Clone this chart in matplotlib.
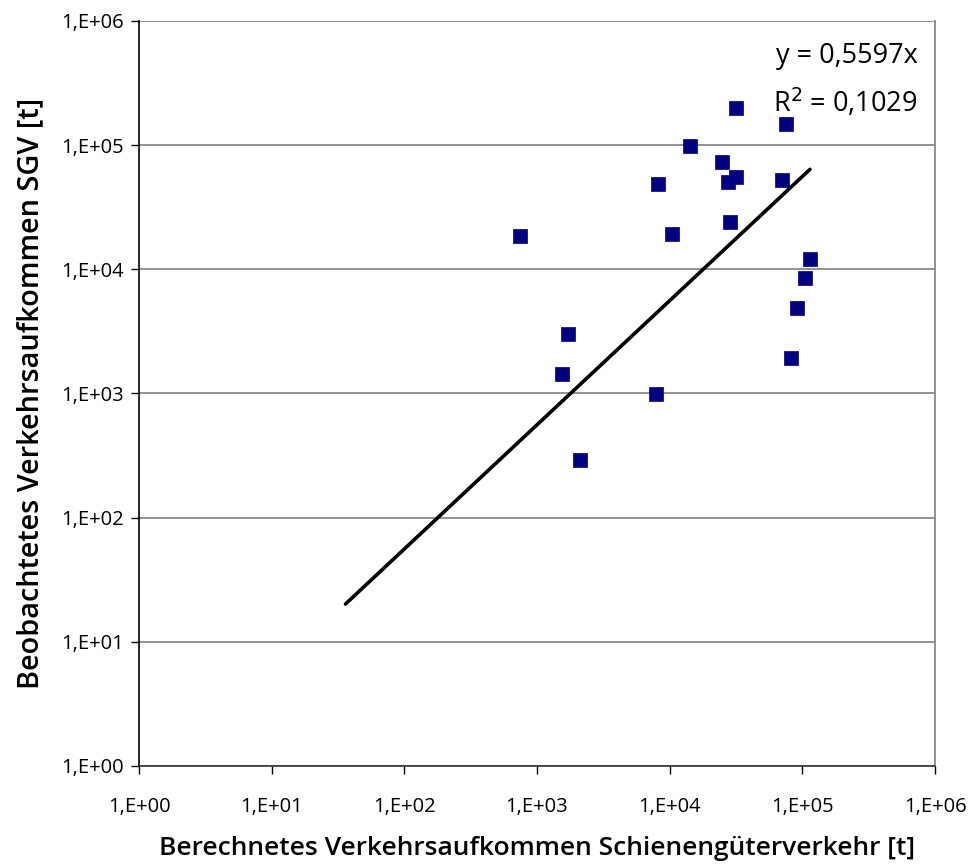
import numpy as np
import matplotlib
matplotlib.use("Agg")
import matplotlib.pyplot as plt
from matplotlib.ticker import FixedLocator, NullLocator

plt.rcParams['font.family'] = ['Open Sans', 'DejaVu Sans']

# Data
x_calc = [743, 1710, 1540, 2105, 7870, 8150, 10400, 14200, 24700, 27500,
          31600, 28400, 31600, 75200, 70100, 114000, 104000, 91000, 81900]
y_obs = [18500, 3010, 1432, 291, 988, 48500, 19200, 98200, 72900, 50300,
         55200, 24000, 198000, 147000, 52300, 12100, 8490, 4870, 1930]
slope = 0.5597
r2 = 0.1029
trend_x_range = [36, 114000]
tick_vals = [1e0, 1e1, 1e2, 1e3, 1e4, 1e5, 1e6]
tick_labels = ["1,E+00", "1,E+01", "1,E+02", "1,E+03", "1,E+04", "1,E+05", "1,E+06"]

fig = plt.figure(figsize=(9.72, 8.67), dpi=100)
ax = fig.add_axes([0.143, 0.1165, 0.819, 0.8593])
ax.set_xscale('log')
ax.set_yscale('log')
ax.set_xlim(1e0, 1e6)
ax.set_ylim(1e0, 1e6)

ax.yaxis.set_major_locator(FixedLocator(tick_vals))
ax.xaxis.set_major_locator(FixedLocator(tick_vals))
ax.xaxis.set_minor_locator(NullLocator())
ax.yaxis.set_minor_locator(NullLocator())
ax.set_xticklabels(tick_labels)
ax.set_yticklabels(tick_labels)

ax.grid(True, axis='y', color='#808080', linewidth=1.2)
ax.set_axisbelow(True)

ax.spines['top'].set_visible(False)
ax.spines['right'].set_color('#808080')
ax.spines['right'].set_linewidth(1.2)
ax.spines['left'].set_color('black')
ax.spines['bottom'].set_color('#333333')
ax.spines['left'].set_linewidth(1.2)
ax.spines['bottom'].set_linewidth(1.2)

ax.tick_params(axis='both', direction='out', length=6, width=1.0, labelsize=14.5,
               colors='black', pad=5)
ax.tick_params(axis='x', pad=16)

tx = np.logspace(np.log10(trend_x_range[0]), np.log10(trend_x_range[1]), 200)
ax.plot(tx, slope * tx, color='black', linewidth=2.6, zorder=3, solid_capstyle='round')

ax.scatter(x_calc, y_obs, marker='s', s=100, color='#000080', edgecolors='#000080',
           linewidths=0.5, zorder=4)

ax.text(0.978, 0.972, "y = 0,5597x", transform=ax.transAxes, ha='right', va='top',
        fontsize=19.5)
ax.text(0.978, 0.912, "R$^2$ = 0,1029", transform=ax.transAxes, ha='right', va='top',
        fontsize=19.5)

ax.set_xlabel("Berechnetes Verkehrsaufkommen Schienengüterverkehr [t]", fontsize=19,
              labelpad=14, fontweight='semibold')
ax.set_ylabel("Beobachtetes Verkehrsaufkommen SGV [t]", fontsize=20.8, labelpad=11,
              fontweight='semibold')

fig.savefig("out.png", dpi=100)
